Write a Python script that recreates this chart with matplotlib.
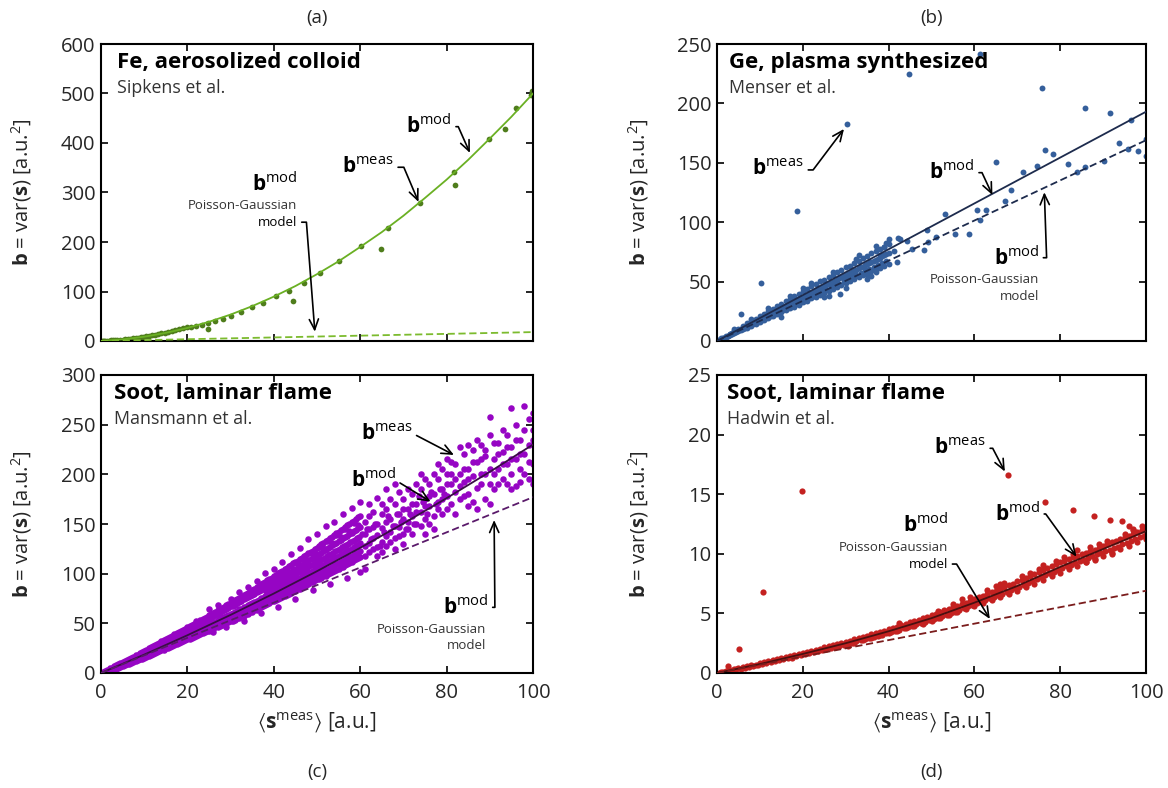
import numpy as np
import matplotlib.pyplot as plt

plt.rcParams['font.family'] = ['Open Sans', 'DejaVu Sans']
plt.rcParams['mathtext.fontset'] = 'custom'
plt.rcParams['mathtext.rm'] = 'Open Sans'
plt.rcParams['mathtext.bf'] = 'Open Sans:bold'
plt.rcParams['mathtext.it'] = 'Open Sans:italic'
plt.rcParams['mathtext.fallback'] = 'stix'

# ---- (a) Fe, aerosolized colloid ----
fe_pts = [(0.3, 0.1), (0.8, 0.4), (1.3, 0.6), (1.8, 0.9), (2.3, 1.2), (2.8, 1.5), (3.3, 1.8),
          (3.8, 2.2), (4.5, 2.6), (5, 3), (5.6, 3.5), (6.2, 4), (6.8, 4.7), (7.4, 5.3), (8, 6),
          (8.6, 6.8), (9.2, 7.5), (9.8, 8.3), (10.5, 9.3), (11.2, 10.3), (11.9, 11.5), (12.6, 12.6),
          (13.3, 13.8), (14, 15.2), (14.8, 16.8), (15.6, 18.5), (16.4, 20.2), (17.2, 22), (18, 24),
          (18.9, 26), (19.8, 28.5), (0.5, 0), (1, 0.2), (2, 0.5), (3, 1.0), (20.8, 28), (22, 31),
          (23.3, 33), (24.8, 36), (24.8, 24), (26.4, 40), (28.2, 44), (30.2, 51), (32.4, 58),
          (34.9, 68), (37.5, 77), (40.4, 90), (43.5, 102), (44.4, 81), (46.9, 118), (50.6, 137),
          (55.0, 161), (60.3, 191), (64.7, 186), (66.5, 229), (73.8, 279), (81.8, 341), (81.9, 315),
          (89.7, 409), (93.6, 429), (96.1, 470), (99.5, 496), (99.7, 505)]
fe_mod_x = [0, 5, 10, 15, 20, 25, 30, 35, 40, 45, 50, 55, 60, 65, 70, 75, 80, 85, 90, 95, 100]
fe_mod_y = [0, 3.2, 8.6, 16.4, 26.4, 38.8, 53.4, 70.4, 89.6, 111, 135, 161, 190, 220, 253,
            289, 326, 366, 409, 453, 500]
fe_pg_x = [0, 100]
fe_pg_y = [0, 18]

# ---- (b) Ge, plasma synthesized ----
# dense band, grouped by x
ge_band = [(1, [1.8, 2.2, 1.5]), (2, [3.6, 4.3, 3.2]), (3, [5.5, 6.3, 4.8]), (4, [7.2, 8.5, 6.4]),
           (5, [9.3, 10.5, 8.0]), (6, [11.0, 12.6, 9.7]), (7, [12.9, 14.8, 11.2]),
           (8, [14.6, 16.8, 12.9]), (9, [16.8, 18.9, 14.5]), (10, [18.3, 21.0, 16.0]),
           (11, [20.4, 23.0, 17.8]), (12, [22.0, 25.3, 19.2]), (13, [24.1, 27.2, 21.0]),
           (14, [25.7, 29.5, 22.5]), (15, [27.8, 31.4, 24.2]), (16, [29.4, 33.6, 25.8]),
           (17, [31.5, 35.5, 27.4]), (18, [33.2, 37.8, 29.0]), (19, [35.2, 39.6, 30.6]),
           (20, [36.8, 42.0, 32.5]), (21, [38.9, 43.5, 34.0]), (22, [40.5, 46.0, 35.8]),
           (23, [42.6, 47.8, 37.2]), (24, [44.2, 50.2, 39.0]), (25, [46.3, 51.6, 40.5]),
           (26, [47.8, 54.0, 42.4]), (27, [50.0, 55.8, 43.6]), (28, [51.6, 57.9, 45.5]),
           (29, [53.7, 59.6, 47.0]), (30, [55.2, 62.0, 48.8]), (31, [57.4, 63.5, 50.2]),
           (32, [59.0, 66.0, 52.0]), (33, [61.1, 67.5, 53.5]), (34, [62.6, 70.0, 55.4]),
           (35, [64.8, 71.4, 56.8]), (36, [66.3, 73.8, 58.6]), (37, [68.5, 75.5, 60.0]),
           (38, [70.0, 77.8, 61.8]), (39, [72.2, 79.4, 63.2]), (40, [73.7, 81.8, 65.0]),
           (0.5, [0.9, 1.1]), (1.5, [2.8, 2.5]), (2.5, [4.6, 4.1]), (3.5, [6.5, 5.9]),
           (4.5, [8.4, 7.6]), (5.5, [10.2, 9.2]), (6.5, [12.0, 11.0]), (7.5, [13.9, 12.6]),
           (8.5, [15.7, 14.3]), (9.5, [17.6, 16.0]), (10.5, [19.4, 17.7]), (11.5, [21.3, 19.4]),
           (12.5, [23.1, 21.1]), (13.5, [25.0, 22.8]), (14.5, [26.8, 24.6]), (15.5, [28.7, 26.2]),
           (16.5, [30.5, 28.0]), (17.5, [32.4, 29.6]), (18.5, [34.2, 31.4]), (19.5, [36.1, 33.0]),
           (20.5, [37.9, 34.8]), (21.5, [39.8, 36.5]), (22.5, [41.6, 38.2]), (23.5, [43.5, 39.9]),
           (24.5, [45.3, 41.6]), (25.5, [47.2, 43.3]), (26.5, [49.0, 45.0]), (27.5, [50.9, 46.7]),
           (28.5, [52.7, 48.4]), (29.5, [54.6, 50.1]), (30.5, [56.4, 51.8]), (31.5, [58.3, 53.5]),
           (32.5, [60.1, 55.2]), (33.5, [62.0, 57.0]), (34.5, [63.8, 58.6]), (35.5, [65.7, 60.4]),
           (36.5, [67.5, 62.0]), (37.5, [69.4, 63.8]), (38.5, [71.2, 65.4]), (39.5, [73.1, 67.2])]
ge_sparse = [(61.3, 241.6), (44.7, 225), (75.7, 212.7), (85.8, 196), (91.7, 192), (96.6, 185.7),
             (99.9, 169.8), (93.6, 167), (95.9, 162), (98.1, 159.7), (99.9, 156), (90.3, 151.5),
             (85.8, 146.7), (84, 142.5), (81.8, 148.7), (78.3, 157.7), (76.5, 160.8), (74.7, 147),
             (71.3, 142.5), (68.5, 127.4), (67.1, 117.8), (65, 151), (62.6, 110.5), (61.3, 102),
             (60.7, 110.5), (58.7, 90), (55.5, 90.3), (53.1, 107), (51, 87.8), (49, 93.7),
             (49.3, 83.3), (48.2, 76.3), (45.5, 77.2), (44.2, 83.9), (42.7, 85.9), (42.2, 86.4),
             (41.3, 75.5), (42, 66.5), (39.5, 82.7), (39, 79), (38, 72), (37.1, 58.3), (35.7, 66.2),
             (34.2, 62.6), (32.4, 69), (31.9, 59.2), (30.3, 182.4), (18.7, 109.2), (10.2, 48.6),
             (5.5, 22.7), (28.6, 39.6), (29.6, 52),
             (12, 28), (15, 20.5), (22, 49), (25, 37), (27, 58), (33, 72), (36, 55), (40, 86),
             (35, 52), (37, 80), (26, 38), (17, 38), (8, 18.5), (4, 10), (20, 45), (30, 45)]
ge_mod_x = [0, 100]
ge_mod_y = [0, 193]
ge_pg_x = [0, 100]
ge_pg_y = [0, 169]

# ---- (c) Soot, Mansmann et al. ----
mans_band = [
    (0.5, [0.5, 1.5, 0.2]), (1, [1.2, 2.5, 0.6]), (1.5, [2.0, 3.4, 1.3]), (2, [3.0, 4.6, 2.1]),
    (2.5, [3.8, 5.5, 2.9]), (3, [4.5, 6.8, 3.6]), (3.5, [5.6, 7.6, 4.4]), (4, [6.3, 8.9, 5.2]),
    (4.5, [7.4, 9.8, 6.0]), (5, [8.0, 11.2, 6.9]), (5.5, [9.3, 12.0, 7.8]), (6, [10.1, 13.4, 8.6]),
    (6.5, [11.3, 14.1, 9.5]), (7, [12.0, 15.6, 10.4]), (7.5, [13.2, 16.3, 11.1]),
    (8, [13.9, 17.8, 12.0]), (8.5, [15.1, 18.6, 12.9]), (9, [15.8, 20.0, 13.6]),
    (9.5, [17.0, 20.9, 14.5]), (10, [17.7, 22.3, 15.3]),
    (10.5, [19.8, 23.6, 16.1, 21.0]), (11, [20.0, 24.9, 17.2, 22.6]), (11.5, [21.9, 26.0, 18.0, 19.3]),
    (12, [22.0, 27.2, 19.1, 24.4]), (12.5, [24.1, 28.3, 19.9, 21.5]), (13, [23.7, 29.4, 21.0, 26.5]),
    (13.5, [26.0, 30.6, 21.8, 23.4]), (14, [25.8, 31.8, 22.9, 28.6]), (14.5, [28.0, 32.9, 23.6, 25.3]),
    (15, [27.6, 34.0, 24.8, 30.4]), (15.5, [29.9, 35.3, 25.4, 27.2]), (16, [29.7, 36.5, 26.6, 32.8]),
    (16.5, [31.8, 37.6, 27.5, 29.0]), (17, [31.4, 38.9, 28.4, 35.0]), (17.5, [33.7, 40.0, 29.2, 30.9]),
    (18, [33.5, 41.3, 30.3, 37.1]), (18.5, [35.6, 42.2, 31.1, 32.8]), (19, [35.4, 43.6, 32.2, 39.4]),
    (19.5, [37.5, 44.5, 32.9, 34.6]), (20, [37.3, 46.2, 34.0, 41.2]),
    (20.5, [39.5, 47.0, 34.6, 43.0, 36.8]), (21, [40.4, 48.6, 35.2, 44.5, 38.0]),
    (21.5, [41.2, 49.1, 36.6, 45.8, 39.0]), (22, [42.6, 50.8, 37.0, 47.2, 40.1]),
    (22.5, [43.0, 51.5, 38.5, 48.0, 41.4]), (23, [44.5, 53.2, 39.0, 49.6, 42.2]),
    (23.5, [45.2, 54.0, 40.3, 50.8, 43.5]), (24, [46.8, 55.8, 41.0, 52.0, 44.3]),
    (24.5, [47.2, 56.5, 42.1, 53.4, 45.6]), (25, [48.9, 58.0, 42.6, 54.6, 46.2]),
    (25.5, [49.5, 59.2, 44.0, 55.8, 47.5]), (26, [51.0, 60.5, 44.4, 57.1, 48.3]),
    (26.5, [51.8, 61.4, 46.0, 58.3, 49.4]), (27, [53.0, 63.0, 46.3, 59.5, 50.6]),
    (27.5, [54.1, 64.2, 47.8, 60.8, 51.3]), (28, [55.2, 65.6, 48.2, 62.0, 52.6]),
    (28.5, [56.0, 66.3, 49.9, 63.4, 53.4]), (29, [57.4, 68.0, 50.2, 64.5, 54.8]),
    (29.5, [58.2, 69.1, 51.6, 65.7, 55.5]), (30, [59.6, 70.6, 52.0, 67.0, 56.9]),
    (30.5, [60.5, 72.0, 52.8, 67.5, 57.2]), (31, [61.8, 73.5, 53.5, 68.8, 58.6]),
    (31.5, [62.3, 74.2, 55.0, 70.1, 59.4]), (32, [64.0, 76.0, 55.4, 71.2, 60.5]),
    (32.5, [64.6, 76.8, 57.0, 72.8, 61.5]), (33, [66.2, 78.5, 57.5, 74.0, 62.4]),
    (33.5, [66.8, 79.6, 59.2, 75.1, 63.6]), (34, [68.4, 81.0, 59.6, 76.4, 64.4]),
    (34.5, [69.0, 82.3, 61.2, 77.6, 65.6]), (35, [70.7, 83.8, 61.6, 78.9, 66.5]),
    (35.5, [71.4, 85.0, 63.3, 80.0, 67.7]), (36, [72.9, 86.5, 63.8, 81.4, 68.6]),
    (36.5, [73.6, 87.8, 65.5, 82.6, 69.8]), (37, [75.1, 89.3, 66.0, 83.9, 70.8]),
    (37.5, [75.9, 90.4, 67.6, 85.1, 71.9]), (38, [77.4, 92.0, 68.2, 86.5, 72.9]),
    (38.5, [78.2, 93.3, 69.9, 87.7, 74.1]), (39, [79.6, 94.8, 70.4, 89.0, 75.1]),
    (39.5, [80.5, 96.0, 72.1, 90.2, 76.3]), (40, [81.9, 97.6, 72.6, 91.6, 77.3]),
    (40.5, [82.6, 99.0, 73.5, 93.0, 78.0]), (41, [84.2, 100.2, 74.0, 94.1, 79.4]),
    (41.5, [85.0, 101.8, 75.6, 95.6, 80.1]), (42, [86.5, 103.0, 76.2, 96.7, 81.6]),
    (42.5, [87.4, 104.6, 77.8, 98.2, 82.3]), (43, [88.9, 105.9, 78.4, 99.4, 83.8]),
    (43.5, [89.8, 107.4, 80.0, 100.8, 84.5]), (44, [91.2, 108.7, 80.6, 102.0, 86.0]),
    (44.5, [92.2, 110.3, 82.3, 103.5, 86.8]), (45, [93.6, 111.6, 82.8, 104.7, 88.2]),
    (45.5, [94.6, 113.2, 84.5, 106.2, 89.0]), (46, [96.0, 114.5, 85.0, 107.4, 90.5]),
    (46.5, [97.0, 116.1, 86.8, 108.9, 91.3]), (47, [98.3, 117.4, 87.3, 110.1, 92.8]),
    (47.5, [99.4, 119.0, 89.0, 111.6, 93.6]), (48, [100.7, 120.4, 89.6, 112.9, 95.1]),
    (48.5, [101.8, 122.0, 91.4, 114.3, 95.9]), (49, [103.1, 123.3, 91.9, 115.6, 97.4]),
    (49.5, [104.2, 125.0, 93.7, 117.1, 98.2]), (50, [105.5, 126.3, 94.2, 118.4, 99.8]),
    (50.5, [106.6, 128.0, 95.0, 120.0, 100.3]), (51, [108.0, 129.5, 95.8, 121.2, 101.7]),
    (51.5, [109.0, 131.2, 97.2, 122.8, 102.4]), (52, [110.4, 132.6, 98.0, 124.0, 103.9]),
    (52.5, [111.5, 134.3, 99.5, 125.6, 104.7]), (53, [112.9, 135.8, 100.2, 126.9, 106.2]),
    (53.5, [114.0, 137.4, 101.8, 128.4, 107.0]), (54, [115.3, 139.0, 102.5, 129.8, 108.5]),
    (54.5, [116.5, 140.6, 104.1, 131.3, 109.3]), (55, [117.8, 142.1, 104.8, 132.6, 110.9]),
    (55.5, [119.0, 143.8, 106.4, 134.2, 111.7]), (56, [120.3, 145.3, 107.2, 135.5, 113.2]),
    (56.5, [121.5, 147.0, 108.8, 137.0, 114.1]), (57, [122.8, 148.5, 109.5, 138.4, 115.6]),
    (57.5, [124.1, 150.2, 111.2, 140.0, 116.4]), (58, [125.3, 151.8, 111.9, 141.3, 118.0]),
    (58.5, [126.6, 153.4, 113.6, 142.9, 118.8]), (59, [127.9, 155.0, 114.3, 144.3, 120.4]),
    (59.5, [129.1, 156.7, 116.0, 145.8, 121.2]), (60, [130.4, 158.3, 116.8, 147.2, 122.8]),
    (61, [140, 118, 152, 128, 105]), (62, [131, 158, 122, 145]), (63, [147, 125, 136, 162]),
    (64, [127, 150, 139, 118]), (65, [160, 132, 146, 122, 170]), (66, [138, 165, 128, 152]),
    (67, [155, 142, 132, 175]), (68, [170, 136, 148, 125]), (69, [147, 160, 138, 182]),
    (70, [175, 140, 155, 130, 165]), (71, [165, 145, 185, 152]), (72, [180, 158, 140, 170]),
    (73, [150, 170, 162, 190]), (74, [185, 162, 148, 200]), (75, [175, 155, 195, 168, 140]),
    (76, [190, 168, 150, 178]), (77, [180, 158, 200, 145]), (78, [195, 172, 165, 210]),
    (79, [185, 160, 205, 175]), (80, [200, 178, 165, 190, 215]), (81, [190, 170, 200, 212]),
    (82, [210, 182, 160, 195]), (83, [200, 175, 228, 188]), (84, [220, 192, 205, 178]),
    (85, [205, 180, 230, 195, 168]), (86, [225, 198, 172, 212]), (87, [212, 186, 165, 235]),
    (88, [230, 200, 190, 215]), (89, [218, 175, 225, 200]), (90, [240, 205, 190, 258, 170]),
    (91, [215, 200, 232, 185]), (92, [232, 190, 205, 220]), (93, [222, 195, 245, 210]),
    (94, [240, 210, 190, 228]), (95, [228, 200, 267, 215, 185]), (96, [250, 188, 215, 235]),
    (97, [235, 205, 220, 192]), (98, [245, 220, 269, 200]), (99, [230, 195, 256, 212]),
    (100, [262, 210, 235, 245, 190])]
# points filling the middle of the band and its ragged fringe
mans_fill = [(38.25, 82.8), (38.75, 84.0), (39.25, 85.4), (39.75, 86.5), (40.25, 87.8), (40.75, 89.0),
             (41.25, 90.3), (41.75, 91.4), (42.25, 92.7), (42.75, 93.9), (43.25, 95.1), (43.75, 96.3),
             (44.25, 97.5), (44.75, 98.6), (45.25, 100.0), (45.75, 101.2), (46.25, 102.4),
             (46.75, 103.7), (47.25, 104.9), (47.75, 106.2), (48.25, 107.4), (48.75, 108.7),
             (49.25, 109.9), (49.75, 111.2), (50.25, 112.4), (50.75, 113.7), (51.25, 114.9),
             (51.75, 116.2), (52.25, 117.5), (52.75, 118.7), (53.25, 120.0), (53.75, 121.3),
             (54.25, 122.5), (54.75, 123.8), (55.25, 125.1), (55.75, 126.4), (56.25, 127.7),
             (56.75, 129.0), (57.25, 130.3), (57.75, 131.6), (58.25, 132.9), (58.75, 134.2),
             (59.25, 135.5), (59.75, 136.8),
             (45.5, 110), (46.5, 115), (47.5, 114), (48.5, 121), (49.5, 120), (50.5, 127), (51.5, 126),
             (52.5, 133), (53.5, 131), (54.5, 139), (55.5, 137), (56.5, 145), (57.5, 143), (58.5, 151),
             (59.5, 149),
             (22, 52), (25, 64), (27, 68), (30, 75), (32, 82), (34, 87), (36, 93), (38, 101), (40, 105),
             (42, 112), (44, 120), (46, 126), (48, 135), (50, 140), (52, 148), (54, 152), (56, 160),
             (58, 166), (60, 172), (26, 41), (29, 46), (33, 52), (37, 60), (41, 66), (45, 75), (49, 84),
             (53, 90), (57, 96), (60, 102), (62, 170), (64, 176), (66, 185), (68, 190), (60.5, 140),
             (61.5, 145), (62.5, 135), (63.5, 150), (64.5, 128), (65.5, 142), (66.5, 158), (67.5, 148),
             (68.5, 160), (69.5, 152), (70.5, 145), (71.5, 160), (72.5, 150), (73.5, 178), (74.5, 172),
             (75.5, 160), (76.5, 182), (77.5, 170), (78.5, 185), (79.5, 180)]
mans_mod_x = [0, 10, 20, 30, 40, 50, 60, 70, 80, 90, 100]
mans_mod_y = [0, 18.5, 38, 58.5, 80, 102.5, 126, 150.5, 176, 202.5, 230]
mans_pg_x = [0, 100]
mans_pg_y = [0, 177]

# ---- (d) Soot, Hadwin et al. ----
had_pts = [(0.5, 0.02), (1, 0.1), (1.5, 0.08), (2, 0.18), (2.5, 0.15), (3, 0.25), (3.5, 0.2), (4, 0.33),
           (4.5, 0.3), (5, 0.4), (5.5, 0.35), (6, 0.48), (6.5, 0.45), (7, 0.55), (7.5, 0.5), (8, 0.63),
           (8.5, 0.6), (9, 0.7), (9.5, 0.65), (10, 0.8), (10.5, 0.72),
           (11, 0.9), (11.5, 0.82), (12, 0.97), (12.5, 0.9), (13, 1.06), (13.5, 0.98), (14, 1.15),
           (14.5, 1.06), (15, 1.23), (15.5, 1.14), (16, 1.32), (16.5, 1.22), (17, 1.4), (17.5, 1.3),
           (18, 1.5), (18.5, 1.4), (19, 1.58), (19.5, 1.48), (20, 1.68), (20.5, 1.56),
           (21, 1.78), (21.5, 1.65), (22, 1.86), (22.5, 1.74), (23, 1.95), (23.5, 1.83), (24, 2.05),
           (24.5, 1.92), (25, 2.14), (25.5, 2.0), (26, 2.24), (26.5, 2.1), (27, 2.32), (27.5, 2.19),
           (28, 2.42), (28.5, 2.28), (29, 2.5), (29.5, 2.36), (30, 2.62), (30.5, 2.46),
           (31, 2.72), (31.5, 2.55), (32, 2.82), (32.5, 2.65), (33, 2.92), (33.5, 2.74), (34, 3.02),
           (34.5, 2.85), (35, 3.14), (35.5, 2.94), (36, 3.24), (36.5, 3.05), (37, 3.35), (37.5, 3.12),
           (38, 3.45), (38.5, 3.22), (39, 3.55), (39.5, 3.32), (40, 3.65), (40.5, 3.4),
           (41, 3.78), (41.5, 3.52), (42, 3.9), (42.5, 3.62), (43, 4.0), (43.5, 3.75), (44, 4.12),
           (44.5, 3.85), (45, 4.25), (45.5, 3.96), (46, 4.36), (46.5, 4.08), (47, 4.48), (47.5, 4.18),
           (48, 4.6), (48.5, 4.3), (49, 4.72), (49.5, 4.42), (50, 4.85), (50.5, 4.52),
           (51, 4.98), (51.5, 4.62), (52, 5.1), (52.5, 4.78), (53, 5.25), (53.5, 4.9), (54, 5.4),
           (54.5, 5.02), (55, 5.5), (55.5, 5.15), (56, 5.62), (56.5, 5.3), (57, 5.78), (57.5, 5.45),
           (58, 5.9), (58.5, 5.58), (59, 6.05), (59.5, 5.7), (60, 6.2), (60.5, 5.85),
           (61, 6.35), (61.5, 6.0), (62, 6.5), (62.5, 6.1), (63, 6.62), (63.5, 6.28), (64, 6.8),
           (64.5, 6.4), (65, 6.9), (65.5, 6.55), (66, 7.08), (66.5, 6.65), (67, 7.2), (67.5, 6.82),
           (68, 7.38), (68.5, 6.95), (69, 7.5), (69.5, 7.12), (70, 7.68), (70.5, 7.25),
           (71, 7.8), (71.5, 7.4), (72, 8.0), (72.5, 7.55), (73, 8.12), (73.5, 7.72), (74, 8.32),
           (74.5, 7.9), (75, 8.45), (75.5, 8.02), (76, 8.65), (76.5, 8.2), (77, 8.8), (77.5, 8.35),
           (78, 9.0), (78.5, 8.5), (79, 9.12), (79.5, 8.68), (80, 9.3), (80.5, 8.82),
           (81, 9.4), (81.5, 8.95), (82, 9.55), (82.5, 9.1), (83, 9.7), (83.5, 9.25), (84, 9.8),
           (84.5, 9.38), (85, 9.95), (85.5, 9.5), (86, 10.1), (86.5, 9.65), (87, 10.2), (87.5, 9.78),
           (88, 10.35), (88.5, 9.95), (89, 10.5), (89.5, 10.05), (90, 10.65), (90.5, 10.2),
           (91, 10.8), (91.5, 10.3), (92, 10.95), (92.5, 10.45), (93, 11.1), (93.5, 10.6), (94, 11.25),
           (94.5, 10.8), (95, 11.4), (95.5, 10.9), (96, 11.5), (96.5, 11.1), (97, 11.7), (97.5, 11.2),
           (98, 11.85), (98.5, 11.4), (99, 12.0), (99.5, 11.5), (100, 12.1), (100, 11.6),
           (30.5, 2.3), (32, 2.55), (34, 2.75), (36, 2.95), (38, 3.15), (40, 3.35), (42, 3.55),
           (44, 3.75), (46, 3.95), (48, 4.15), (50, 4.35), (52, 4.6), (54, 4.85), (56, 5.1),
           (58, 5.35), (60, 5.6), (62, 5.85), (64, 6.1), (66, 6.35), (68, 6.6), (70, 6.9), (72, 7.2),
           (74, 7.5), (76, 7.8), (78, 8.1), (80, 8.4), (82, 8.7), (84, 9.0), (86, 9.3), (88, 9.55),
           (90, 9.85), (92, 10.1), (94, 10.4), (96, 10.65), (98, 10.95), (100, 11.2),
           (51.5, 5.2), (55, 5.75), (59, 6.4), (63, 7.0), (67, 7.55), (71, 8.15), (75, 8.75),
           (79, 9.4), (83, 10.0), (87, 10.55), (91, 11.1), (95, 11.7), (99, 12.3), (65, 7.3),
           (73, 8.4), (81, 9.75), (89, 10.85), (97, 12.1),
           (57, 6.2), (66, 7.5), (76, 9.1), (84, 10.3), (92, 10.0), (97, 12.0), (86, 9.3),
           (42.5, 4.2), (88, 9.5),
           (19.9, 15.24), (10.7, 6.8), (5.2, 2.04), (2.6, 0.6), (67.8, 16.6), (76.4, 14.35),
           (82.9, 13.65), (87.9, 13.2), (91.6, 12.8), (94.4, 12.75), (96.1, 12.3)]
had_mod_x = [0, 10, 20, 30, 40, 50, 60, 70, 80, 90, 100]
had_mod_y = [0, 0.75, 1.6, 2.5, 3.5, 4.6, 5.9, 7.3, 8.9, 10.4, 11.9]
had_pg_x = [0, 100]
had_pg_y = [0, 6.9]


def flatten(bins):
    return [(x, y) for x, ys in bins for y in ys]


fig = plt.figure(figsize=(11.68, 7.88), dpi=100)
W, H = 1168, 788


def make_axes(left, top, right, bottom):
    return fig.add_axes([left / W, 1 - bottom / H, (right - left) / W, (bottom - top) / H])


ax_a = make_axes(101, 44, 533, 341)
ax_b = make_axes(717, 44, 1146, 341)
ax_c = make_axes(101, 375, 533, 673)
ax_d = make_axes(717, 375, 1146, 673)

ylab = r'$\mathbf{b}$ = var($\mathbf{s}$) [a.u.$^2$]'
xlab = r'$\langle\mathbf{s}^{\mathrm{meas}}\rangle$ [a.u.]'
tick_col = '#262626'


def style(ax, ymax, ystep, bottom_row):
    ax.set_xlim(0, 100)
    ax.set_ylim(0, ymax)
    ax.set_xticks(np.arange(0, 101, 20))
    ax.set_yticks(np.arange(0, ymax + 1, ystep))
    ax.tick_params(direction='in', top=True, right=True, length=5, width=1.2,
                   labelsize=14.5, labelcolor=tick_col, pad=4)
    ax.tick_params(axis='x', pad=7)
    for s in ax.spines.values():
        s.set_linewidth(1.5)
    if not bottom_row:
        ax.tick_params(axis='x', labelbottom=False)
    else:
        ax.set_xlabel(xlab, fontsize=15, color=tick_col)
        ax.xaxis.set_label_coords(0.5, -0.125)
    ax.set_ylabel(ylab, fontsize=14.5, color=tick_col)
    ax.yaxis.set_label_coords(-0.155, 0.5)


def header(ax, title, ref, x0):
    ax.text(x0, 0.919, title, transform=ax.transAxes, fontsize=16, fontweight='bold',
            va='baseline', ha='left')
    ax.text(x0, 0.834, ref, transform=ax.transAxes, fontsize=12.8, color='#333333',
            va='baseline', ha='left')


def note(ax, label, txt, tip, angb, size=15):
    ax.annotate(label, xy=tip, xytext=txt, ha='right', va='center', fontsize=size,
                arrowprops=dict(arrowstyle='->,head_length=0.5,head_width=0.22',
                                connectionstyle=f'angle,angleA=0,angleB={angb},rad=0',
                                relpos=(1, 0.5), shrinkA=1, shrinkB=0, lw=1.2, color='k',
                                mutation_scale=15))


bmod = r'$\mathbf{b}^{\mathrm{mod}}$'
bmeas = r'$\mathbf{b}^{\mathrm{meas}}$'
small = dict(fontsize=9.5, color='#333333', ha='right', va='baseline')


def scatter(ax, pts, color, s=15):
    p = np.array(pts)
    ax.scatter(p[:, 0], p[:, 1], s=s, color=color, linewidths=0, zorder=2)


# (a)
scatter(ax_a, fe_pts, '#4f7d1c', s=17)
ax_a.plot(fe_mod_x, fe_mod_y, color='#6ab023', lw=1.3, zorder=3)
ax_a.plot(fe_pg_x, fe_pg_y, color='#7cbb2e', lw=1.3, ls=(0, (4, 2)), zorder=3)
style(ax_a, 600, 100, False)
header(ax_a, 'Fe, aerosolized colloid', 'Sipkens et al.', 0.036)
note(ax_a, bmod, (81.2, 433), (85.4, 380), 114)
note(ax_a, bmeas, (67.8, 351), (73.5, 281), 113)
ax_a.text(45.5, 303, bmod, fontsize=15, ha='right', va='baseline')
ax_a.text(45.5, 266.7, 'Poisson-Gaussian', **small)
note(ax_a, 'model', (45.5, 240), (49.5, 18.8), 94.4, size=9.5)

# (b)
scatter(ax_b, flatten(ge_band) + ge_sparse, '#355f9b', s=18)
ax_b.plot(ge_mod_x, ge_mod_y, color='#1d2b4d', lw=1.3, zorder=3)
ax_b.plot(ge_pg_x, ge_pg_y, color='#1d2b4d', lw=1.3, ls=(0, (4, 2)), zorder=3)
style(ax_b, 250, 50, False)
header(ax_b, 'Ge, plasma synthesized', 'Menser et al.', 0.029)
note(ax_b, bmeas, (20.3, 144), (29.6, 178.5), -127)
note(ax_b, bmod, (60.1, 141.7), (64.2, 122.9), 115)
note(ax_b, bmod, (75.1, 70.1), (76.3, 125.2), -88)
ax_b.text(75.1, 48.6, 'Poisson-Gaussian', **small)
ax_b.text(75.1, 34.5, 'model', **small)

# (c)
scatter(ax_c, flatten(mans_band) + mans_fill, '#9605c4', s=22)
ax_c.plot(mans_mod_x, mans_mod_y, color='#3a0d45', lw=1.3, zorder=3)
ax_c.plot(mans_pg_x, mans_pg_y, color='#5a1a6a', lw=1.3, ls=(0, (4, 2)), zorder=3)
style(ax_c, 300, 50, True)
header(ax_c, 'Soot, laminar flame', 'Mansmann et al.', 0.030)
note(ax_c, bmeas, (72.1, 239.6), (81.7, 219.5), 152.5)
note(ax_c, bmod, (68.3, 194.3), (76.3, 172.5), 148.6)
note(ax_c, bmod, (89.7, 66.1), (91, 154), -89.5)
ax_c.text(89.1, 40.6, 'Poisson-Gaussian', **small)
ax_c.text(89.1, 23.9, 'model', **small)

# (d)
scatter(ax_d, had_pts, '#c42120', s=20)
ax_d.plot(had_mod_x, had_mod_y, color='#4a1010', lw=1.3, zorder=3)
ax_d.plot(had_pg_x, had_pg_y, color='#7a1c1c', lw=1.3, ls=(0, (4, 2)), zorder=3)
style(ax_d, 25, 5, True)
header(ax_d, 'Soot, laminar flame', 'Hadwin et al.', 0.024)
note(ax_d, bmeas, (62.7, 18.85), (67.1, 16.9), 117.6)
note(ax_d, bmod, (75.3, 13.34), (83.8, 9.76), 125.8)
ax_d.text(53.9, 11.85, bmod, fontsize=15, ha='right', va='baseline')
ax_d.text(53.9, 10.26, 'Poisson-Gaussian', **small)
note(ax_d, 'model', (53.9, 9.14), (63.6, 4.53), 121.2, size=9.5)

for lab, x, y in [('(a)', 0.2714, 0.977), ('(b)', 0.7975, 0.977),
                  ('(c)', 0.2714, 0.020), ('(d)', 0.7975, 0.020)]:
    fig.text(x, y, lab, ha='center', va='center', fontsize=13.5, color=tick_col)

fig.savefig('out.png', dpi=100)
